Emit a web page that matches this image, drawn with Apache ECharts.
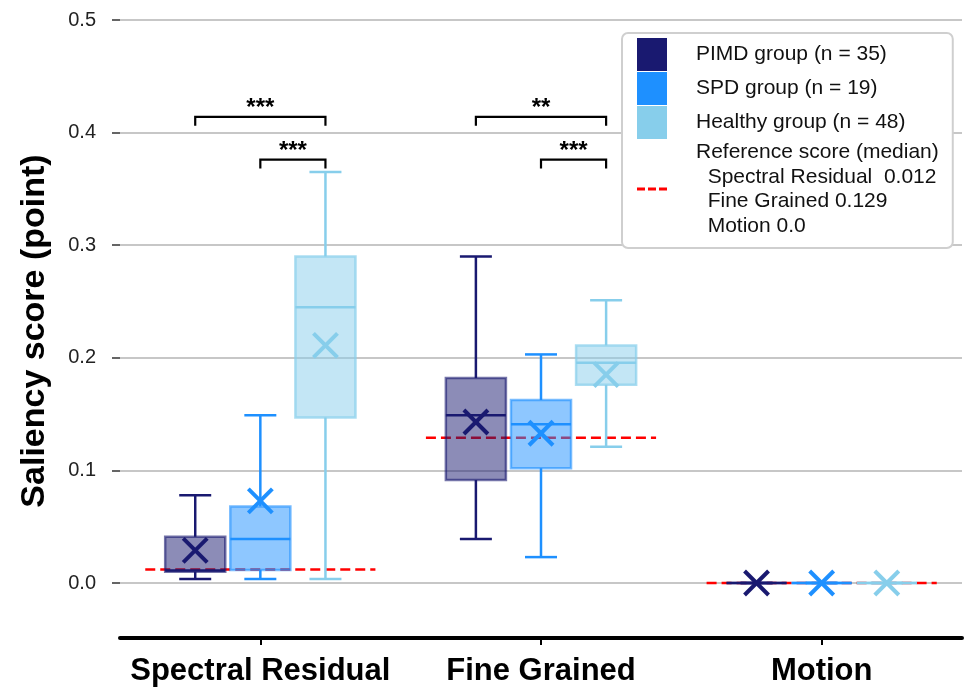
<!DOCTYPE html>
<html>
<head>
<meta charset="utf-8">
<title>Saliency score</title>
<script src="https://cdn.jsdelivr.net/npm/echarts@6/dist/echarts.min.js"></script>
<style>
html, body { margin: 0; padding: 0; background: #fff; }
#container { width: 976px; height: 691px; }
</style>
</head>
<body>
<div id="container"></div>
<script>
// categories on the x axis
var categories = ['Spectral Residual', 'Fine Grained', 'Motion'];
var groupNames = ['PIMD group (n = 35)', 'SPD group (n = 19)', 'Healthy group (n = 48)'];
var refName = 'Reference score (median)\n  Spectral Residual  0.012\n  Fine Grained 0.129\n  Motion 0.0';

// box stats per group, one value per category: whisker low, q1, median, q3, whisker high, mean
var pimdLow    = [0.0035, 0.039, 0];
var pimdQ1     = [0.010, 0.0915, 0];
var pimdMedian = [0.011, 0.149, 0];
var pimdQ3     = [0.041, 0.182, 0];
var pimdHigh   = [0.078, 0.290, 0];
var pimdMean   = [0.029, 0.143, 0];

var spdLow    = [0.0035, 0.023, 0];
var spdQ1     = [0.0115, 0.102, 0];
var spdMedian = [0.039, 0.141, 0];
var spdQ3     = [0.068, 0.1625, 0];
var spdHigh   = [0.149, 0.203, 0];
var spdMean   = [0.073, 0.133, 0];

var healthyLow    = [0.0035, 0.121, 0];
var healthyQ1     = [0.147, 0.176, 0];
var healthyMedian = [0.245, 0.1955, 0];
var healthyQ3     = [0.290, 0.211, 0];
var healthyHigh   = [0.365, 0.251, 0];
var healthyMean   = [0.211, 0.185, 0];

// reference score (median) per category
var refScore = [0.012, 0.129, 0.0];

// significance brackets
var sigCat   = [0, 0, 1, 1];
var sigFrom  = [0, 1, 0, 1];
var sigTo    = [2, 2, 2, 2];
var sigLevel = [0.414, 0.376, 0.414, 0.376];
var sigText  = ['***', '***', '**', '***'];

var yTicks = [0, 0.1, 0.2, 0.3, 0.4, 0.5];

var FONT = '"Liberation Sans", Arial, Helvetica, sans-serif';
var colors = ['#191970', '#1e90ff', '#87ceeb'];
var fills = ['rgba(25,25,112,0.5)', 'rgba(30,144,255,0.5)', 'rgba(135,206,235,0.5)'];
var edges = ['rgba(25,25,112,0.6)', 'rgba(30,144,255,0.6)', 'rgba(135,206,235,0.7)'];
var GROUP_STEP = 0.232;   // distance between boxes, fraction of band
var BOX_HALF = 0.107;
var CAP_HALF = 0.057;

function toRows(low, q1, med, q3, high, mean) {
  var rows = [];
  for (var i = 0; i < categories.length; i++) {
    rows.push([i, low[i], q1[i], med[i], q3[i], high[i], mean[i]]);
  }
  return rows;
}

var groupData = [
  toRows(pimdLow, pimdQ1, pimdMedian, pimdQ3, pimdHigh, pimdMean),
  toRows(spdLow, spdQ1, spdMedian, spdQ3, spdHigh, spdMean),
  toRows(healthyLow, healthyQ1, healthyMedian, healthyQ3, healthyHigh, healthyMean)
];

function boxRenderer(g) {
  return function (params, api) {
    var cat = api.value(0);
    var band = api.size([1, 0])[0];
    var cx = api.coord([cat, 0])[0] + (g - 1) * band * GROUP_STEP;
    var half = band * BOX_HALF;
    var cap = band * CAP_HALF;
    function y(i) { return api.coord([cat, api.value(i)])[1]; }
    var yLow = y(1), yQ1 = y(2), yMed = y(3), yQ3 = y(4), yHigh = y(5), yMean = y(6);
    var line = { stroke: colors[g], lineWidth: 2.5 };
    var mk = 12;
    return {
      type: 'group',
      children: [
        { type: 'line', shape: { x1: cx, y1: yQ3, x2: cx, y2: yHigh }, style: line },
        { type: 'line', shape: { x1: cx, y1: yQ1, x2: cx, y2: yLow }, style: line },
        { type: 'line', shape: { x1: cx - cap, y1: yHigh, x2: cx + cap, y2: yHigh }, style: line },
        { type: 'line', shape: { x1: cx - cap, y1: yLow, x2: cx + cap, y2: yLow }, style: line },
        { type: 'rect', shape: { x: cx - half, y: yQ3, width: half * 2, height: yQ1 - yQ3 },
          style: { fill: fills[g], stroke: edges[g], lineWidth: 2.5 } },
        { type: 'line', shape: { x1: cx - half, y1: yMed, x2: cx + half, y2: yMed }, style: line },
        { type: 'line', shape: { x1: cx - mk, y1: yMean - mk, x2: cx + mk, y2: yMean + mk },
          style: { stroke: colors[g], lineWidth: 4 } },
        { type: 'line', shape: { x1: cx - mk, y1: yMean + mk, x2: cx + mk, y2: yMean - mk },
          style: { stroke: colors[g], lineWidth: 4 } }
      ]
    };
  };
}

var series = [];

series.push({
  name: refName,
  type: 'custom',
  itemStyle: { color: '#ff0000' },
  data: refScore.map(function (v, i) { return [i, v]; }),
  encode: { x: 0, y: 1 },
  renderItem: function (params, api) {
    var cat = api.value(0);
    var band = api.size([1, 0])[0];
    var p = api.coord([cat, api.value(1)]);
    return {
      type: 'line',
      shape: { x1: p[0] - band * 0.41, y1: p[1], x2: p[0] + band * 0.41, y2: p[1] },
      style: { stroke: '#ff0000', lineWidth: 2.5, lineDash: [10, 5] }
    };
  }
});

for (var g = 0; g < 3; g++) {
  series.push({
    name: groupNames[g],
    type: 'custom',
    itemStyle: { color: colors[g] },
    data: groupData[g],
    encode: { x: 0, y: [1, 2, 3, 4, 5, 6] },
    renderItem: boxRenderer(g)
  });
}

series.push({
  name: 'significance',
  type: 'custom',
  data: sigCat.map(function (c, i) { return [c, sigFrom[i], sigTo[i], sigLevel[i]]; }),
  encode: { x: 0, y: 3 },
  renderItem: function (params, api) {
    var cat = api.value(0);
    var band = api.size([1, 0])[0];
    var c = api.coord([cat, api.value(3)]);
    var x1 = c[0] + (api.value(1) - 1) * band * GROUP_STEP;
    var x2 = c[0] + (api.value(2) - 1) * band * GROUP_STEP;
    var yy = c[1];
    return {
      type: 'group',
      children: [
        { type: 'polyline', shape: { points: [[x1, yy + 9], [x1, yy], [x2, yy], [x2, yy + 9]] },
          style: { stroke: '#000', lineWidth: 2.2, fill: null } },
        { type: 'text', x: (x1 + x2) / 2, y: yy + 4,
          style: { text: sigText[params.dataIndex], fill: '#000', font: 'bold 24px ' + FONT,
                   align: 'center', verticalAlign: 'bottom' } }
      ]
    };
  }
});

var dom = document.getElementById('container');
var myChart = echarts.init(dom, null, { renderer: 'canvas' });

var option = {
  animation: false,
  backgroundColor: '#fff',
  grid: { left: 120, right: 14, top: 20, bottom: 108, containLabel: false },
  legend: {
    orient: 'vertical',
    left: 622,
    top: 33,
    itemWidth: 30,
    itemHeight: 33,
    itemGap: 1,
    padding: [5, 14, 10, 15],
    backgroundColor: '#fff',
    borderColor: '#cfcfcf',
    borderWidth: 2,
    borderRadius: 6,
    selectedMode: false,
    textStyle: { fontFamily: FONT, fontSize: 21, lineHeight: 24.5, color: '#111', padding: [0, 0, 0, 24] },
    data: [
      { name: groupNames[0], icon: 'rect' },
      { name: groupNames[1], icon: 'rect' },
      { name: groupNames[2], icon: 'rect' },
      { name: refName, icon: 'path://M0,0h8v3h-8zM11,0h8v3h-8zM22,0h8v3h-8z' }
    ]
  },
  xAxis: {
    type: 'category',
    data: categories,
    offset: 55,
    axisLine: { onZero: false, lineStyle: { color: '#000', width: 4 } },
    axisTick: { show: true, alignWithLabel: true, length: 7, lineStyle: { color: '#000', width: 2 } },
    axisLabel: { interval: 0, hideOverlap: false, fontFamily: FONT,
                 fontWeight: 'bold', fontSize: 31, color: '#000', margin: 18 },
    splitLine: { show: false }
  },
  yAxis: {
    type: 'value',
    min: yTicks[0],
    max: yTicks[yTicks.length - 1],
    interval: 0.1,
    axisLine: { show: false },
    axisTick: { show: true, length: 8, lineStyle: { color: '#333', width: 1.5 } },
    axisLabel: { fontFamily: FONT, fontSize: 20, color: '#222', margin: 24,
                 formatter: function (v) { return v.toFixed(1); } },
    splitLine: { show: true, lineStyle: { color: '#b4b4b4', width: 1.5 } }
  },
  graphic: [{
    type: 'text',
    x: 35,
    y: 331,
    rotation: Math.PI / 2,
    style: { text: 'Saliency score (point)', font: 'bold 34px ' + FONT, fill: '#000',
             align: 'center', verticalAlign: 'middle' }
  }],
  series: series
};

myChart.setOption(option);
window.addEventListener('resize', function () { myChart.resize(); });
</script>
</body>
</html>
